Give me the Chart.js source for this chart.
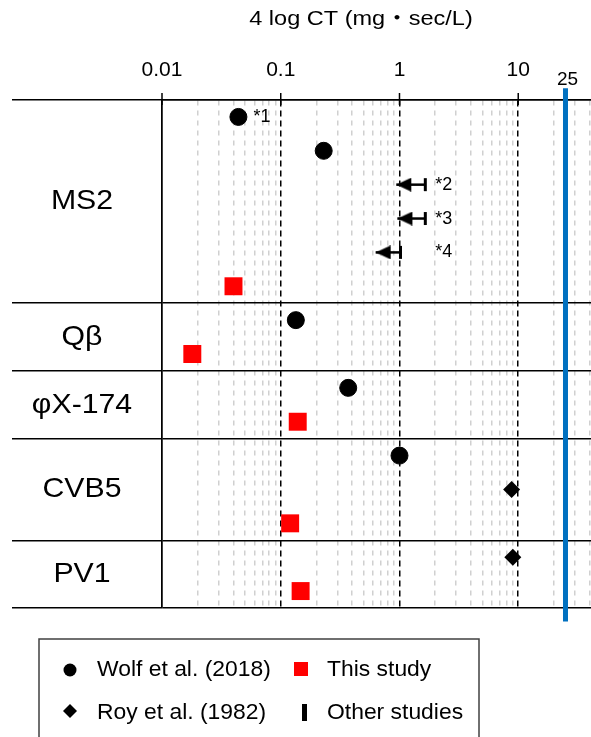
<!DOCTYPE html>
<html>
<head>
<meta charset="utf-8">
<script src="https://cdn.jsdelivr.net/npm/chart.js@4"></script>
<style>
  html, body { margin: 0; padding: 0; background: #fff; }
  canvas { display: block; }
</style>
</head>
<body>
<canvas id="ctChart" width="591" height="737"></canvas>
<script>
const FONT = "'Liberation Sans', Arial, 'Noto Sans CJK JP', sans-serif";

// virus groups, number of rows each one takes
const groups = ['MS2', 'Qβ', 'φX-174', 'CVB5', 'PV1'];
const groupRows = [6, 2, 2, 3, 2];

// Wolf et al. (2018)
const wolfX = [0.044, 0.23, 0.134, 0.37, 1.0];
const wolfRow = [0, 1, 6, 8, 10];

// This study
const thisX = [0.04, 0.018, 0.139, 0.12, 0.147];
const thisRow = [5, 7, 9, 12, 14];

// Roy et al. (1982)
const royX = [8.8, 9.0];
const royRow = [11, 13];

// Other studies (upper bound -> arrow to lower bound)
const otherHi = [1.65, 1.65, 1.02];
const otherLo = [0.94, 0.96, 0.63];
const otherRow = [2, 3, 4];
const otherNote = ['*2', '*3', '*4'];
const wolfNote = '*1';

const xTicks = [0.01, 0.1, 1, 10];
const xTickLabels = ['0.01', '0.1', '1', '10'];
const limitCT = 25;
const limitLabel = '25';
const xTitle = '4 log CT (mg・sec/L)';
const xMin = 0.01, xMax = 41;

// minor grid values 1..9 x decade
const gridValues = [];
[0.01, 0.1, 1, 10].forEach(d => { for (let k = 1; k <= 9; k++) { if (d * k <= xMax) gridValues.push(+(d * k).toPrecision(3)); } });

const rowEdges = [0];
groupRows.forEach(n => rowEdges.push(rowEdges[rowEdges.length - 1] + n));
const totalRows = rowEdges[rowEdges.length - 1];

function isDecade(v) {
  const l = Math.log10(v);
  return Math.abs(l - Math.round(l)) < 1e-6;
}

function arrowHead() {
  const c = document.createElement('canvas');
  c.width = 32; c.height = 14;
  const g = c.getContext('2d');
  g.fillStyle = '#000';
  g.beginPath();
  g.moveTo(16, 7); g.lineTo(31, 0); g.lineTo(31, 14);
  g.closePath(); g.fill();
  return c;
}
const head = arrowHead();

function putText(g, str, x, y, size, align, sx) {
  g.save();
  g.font = size + 'px ' + FONT;
  g.fillStyle = '#000';
  g.textAlign = align;
  g.textBaseline = 'middle';
  g.translate(x, y);
  g.scale(sx || 1, 1);
  g.fillText(str, 0, 0);
  g.restore();
}

const decor = {
  id: 'decor',
  afterDraw(chart) {
    const g = chart.ctx;
    const xs = chart.scales.x, ys = chart.scales.y;
    const top = chart.chartArea.top;

    // decade tick marks above the axis line
    g.save();
    g.strokeStyle = '#000';
    g.lineWidth = 1.5;
    xTicks.forEach(t => {
      const px = xs.getPixelForValue(t);
      g.beginPath(); g.moveTo(px, top - 7); g.lineTo(px, top + 5); g.stroke();
    });
    g.restore();

    putText(g, xTitle, 361, 19, 21, 'center', 1.12);
    putText(g, limitLabel, xs.getPixelForValue(limitCT) + 2, 80, 19, 'center', 1);

    // group names
    groups.forEach((name, i) => {
      const yc = ys.getPixelForValue((rowEdges[i] + rowEdges[i + 1]) / 2);
      putText(g, name, 82, yc, 28, 'center', 1.08);
    });

    // footnote marks
    putText(g, wolfNote, xs.getPixelForValue(wolfX[0]) + 15, ys.getPixelForValue(wolfRow[0] + 0.5), 18, 'left', 1);
    otherNote.forEach((n, i) => {
      putText(g, n, xs.getPixelForValue(2), ys.getPixelForValue(otherRow[i] + 0.5), 18, 'left', 1);
    });

    // legend box
    g.save();
    g.strokeStyle = '#404040';
    g.lineWidth = 1.5;
    g.strokeRect(39, 639, 440, 130);
    g.fillStyle = '#000';
    g.beginPath(); g.arc(70, 670, 6.5, 0, Math.PI * 2); g.fill();
    g.fillStyle = '#ff0000';
    g.fillRect(294, 662, 14, 14);
    g.fillStyle = '#000';
    g.beginPath();
    g.moveTo(70, 704); g.lineTo(77, 711); g.lineTo(70, 718); g.lineTo(63, 711);
    g.closePath(); g.fill();
    g.fillRect(302, 704, 5, 17);
    g.restore();
    putText(g, 'Wolf et al. (2018)', 97, 670, 22, 'left', 1.04);
    putText(g, 'This study', 327, 670, 22, 'left', 1.04);
    putText(g, 'Roy et al. (1982)', 97, 713, 22, 'left', 1.04);
    putText(g, 'Other studies', 327, 713, 22, 'left', 1.04);
  }
};

const datasets = [
  {
    label: 'Wolf et al. (2018)',
    data: wolfX.map((v, i) => ({ x: v, y: wolfRow[i] + 0.5 })),
    pointStyle: 'circle', pointRadius: 8.5, pointBorderWidth: 1,
    backgroundColor: '#000', borderColor: '#000'
  },
  {
    label: 'This study',
    data: thisX.map((v, i) => ({ x: v, y: thisRow[i] + 0.5 })),
    pointStyle: 'rect', pointRadius: 12.7, pointBorderWidth: 0,
    backgroundColor: '#ff0000', borderColor: '#ff0000'
  },
  {
    label: 'Roy et al. (1982)',
    data: royX.map((v, i) => ({ x: v, y: royRow[i] + 0.5 })),
    pointStyle: 'rectRot', pointRadius: 8.5, pointBorderWidth: 0,
    backgroundColor: '#000', borderColor: '#000'
  }
];

otherHi.forEach((hi, i) => {
  datasets.push({
    label: 'Other studies',
    showLine: true,
    data: [{ x: otherLo[i], y: otherRow[i] + 0.5 }, { x: hi, y: otherRow[i] + 0.5 }],
    borderColor: '#000', borderWidth: 2.5,
    backgroundColor: '#000',
    pointStyle: ctx => ctx.dataIndex === 0 ? head : 'line',
    pointRotation: ctx => ctx.dataIndex === 0 ? 0 : 90,
    pointRadius: ctx => ctx.dataIndex === 0 ? 8 : 6.5,
    pointBorderWidth: 3
  });
});

datasets.push({
  label: 'limit',
  showLine: true,
  clip: false,
  data: [{ x: limitCT, y: -0.35 }, { x: limitCT, y: totalRows + 0.4 }],
  borderColor: '#0070c0', borderWidth: 5,
  pointRadius: 0
});

new Chart(document.getElementById('ctChart'), {
  type: 'scatter',
  data: { datasets: datasets },
  options: {
    responsive: false,
    animation: false,
    layout: { autoPadding: false, padding: { left: 12, top: 57.8, right: 0, bottom: 129 } },
    plugins: { legend: { display: false }, tooltip: { enabled: false } },
    scales: {
      x: {
        type: 'logarithmic',
        position: 'top',
        min: xMin,
        max: xMax,
        afterBuildTicks: s => {
          s.ticks = gridValues.map(v => ({ value: v }));
          s.min = xMin;
          s.max = xMax;
        },
        ticks: {
          autoSkip: false, maxRotation: 0, padding: 0, color: '#000',
          font: { family: FONT, size: 21 },
          callback: v => {
            const i = xTicks.findIndex(t => Math.abs(t - v) / t < 1e-6);
            return i >= 0 ? xTickLabels[i] : '';
          }
        },
        grid: {
          lineWidth: 1.5,
          color: ctx => isDecade(ctx.tick.value) ? '#000' : '#d0d0d0',
          tickLength: 17,
          tickColor: 'rgba(0,0,0,0)'
        },
        border: {
          display: true, color: '#000', width: 1.5,
          dash: ctx => {
            if (!ctx.tick) return [];
            if (ctx.tick.value === xMin) return [];
            return isDecade(ctx.tick.value) ? [6, 4] : [5, 5];
          }
        }
      },
      y: {
        type: 'linear',
        min: 0,
        max: totalRows,
        reverse: true,
        afterBuildTicks: s => { s.ticks = rowEdges.map(v => ({ value: v })); },
        ticks: { display: false },
        grid: { color: '#000', lineWidth: 1.5, tickLength: 150 },
        border: { display: true, color: '#000', width: 1.5 }
      }
    }
  },
  plugins: [decor]
});
</script>
</body>
</html>
